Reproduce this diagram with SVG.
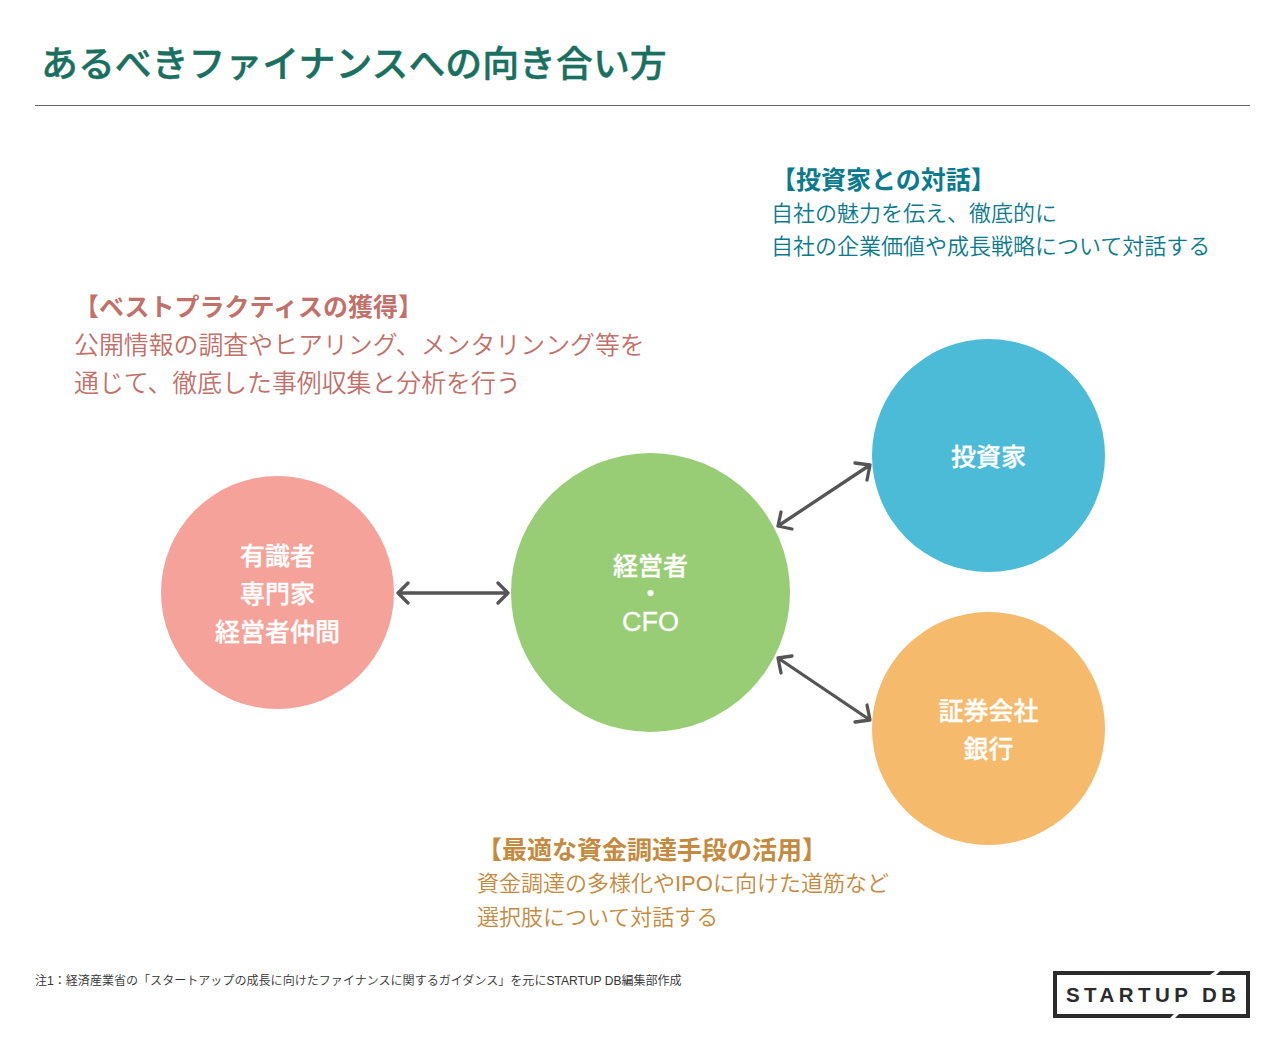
<svg xmlns="http://www.w3.org/2000/svg" width="1285" height="1047" viewBox="0 0 1285 1047">
<style>
text{font-family:"Liberation Sans","Noto Sans CJK JP",sans-serif}
.t{font-size:36.900px;font-weight:500;fill:#1a7060;stroke:#1a7060;stroke-width:.4px}
.h{font-size:25px;font-weight:700}
.b{font-size:22px;font-weight:350}
.rb{font-size:24.900px}
.r{fill:#c1706a}.g{fill:#0a7a8c}.o{fill:#c48a40}
.n{font-size:25px;font-weight:500;fill:#fff;text-anchor:middle;stroke:#fff;stroke-width:.3px}
.c{fill:none;stroke:#555;stroke-width:3.300;stroke-linecap:round;stroke-linejoin:round}
</style>
<rect width="1285" height="1047" fill="#fff"/>
<text id="title" class="t" x="41" y="77">あるべきファイナンスへの向き合い方</text>
<line x1="35" y1="105.500" x2="1250" y2="105.500" stroke="#666" stroke-width="1"/>
<g id="note-investor">
<text class="h g" x="771" y="189">【投資家との対話】</text>
<text class="b g" x="771" y="221">自社の魅力を伝え、徹底的に</text>
<text class="b g" x="771" y="254">自社の企業価値や成長戦略について対話する</text>
</g>
<g id="note-best">
<text class="h r" x="74" y="316">【ベストプラクティスの獲得】</text>
<text class="b rb r" x="74" y="354">公開情報の調査やヒアリング、メンタリンング等を</text>
<text class="b rb r" x="74" y="392">通じて、徹底した事例収集と分析を行う</text>
</g>
<g id="note-finance">
<text class="h o" x="477" y="859">【最適な資金調達手段の活用】</text>
<text class="b o" x="477" y="891">資金調達の多様化やIPOに向けた道筋など</text>
<text class="b o" x="477" y="925">選択肢について対話する</text>
</g>
<g id="connectors">
<path class="c" d="M398 593H508M408 583L398 593L408 603M498 583L508 593L498 603"/>
<path class="c" d="M778 526L870 465M781 512L778 526L792 529M855 463L870 465L867 480"/>
<path class="c" d="M778 658L870 720M792 656L778 658L781 673M867 705L870 720L855 722"/>
</g>
<g id="node-experts">
<circle cx="277.500" cy="592.500" r="116.500" fill="#f5a29a"/>
<text class="n" x="277.500" y="565">有識者</text>
<text class="n" x="277.500" y="603">専門家</text>
<text class="n" x="277.500" y="641">経営者仲間</text>
</g>
<g id="node-cfo">
<circle cx="650.500" cy="592.500" r="139.500" fill="#98cd76"/>
<text class="n" x="650.500" y="575">経営者</text>
<text class="n" x="650.500" y="603">・</text>
<text class="n" style="font-size:27px;font-weight:400" x="650.500" y="631">CFO</text>
</g>
<g id="node-investor">
<circle cx="988.500" cy="455.500" r="116.500" fill="#4cbbd7"/>
<text class="n" x="988.500" y="466">投資家</text>
</g>
<g id="node-bank">
<circle cx="988.500" cy="728.500" r="116.500" fill="#f5ba6c"/>
<text class="n" x="988.500" y="720">証券会社</text>
<text class="n" x="988.500" y="758">銀行</text>
</g>
<text id="footnote" x="35" y="985" font-size="12.050" font-weight="350" fill="#333">注1：経済産業省の「スタートアップの成長に向けたファイナンスに関するガイダンス」を元にSTARTUP DB編集部作成</text>
<g id="logo">
<path fill="#2b2b2b" d="M1053 971H1215L1210 975H1057V1014H1174L1170 1018H1053ZM1220 971H1250V1018H1175L1179 1014H1246V975H1216Z"/>
<text x="1066" y="1002" font-size="20.500" font-weight="700" fill="#2b2b2b" textLength="170" lengthAdjust="spacing">STARTUP DB</text>
</g>
</svg>
